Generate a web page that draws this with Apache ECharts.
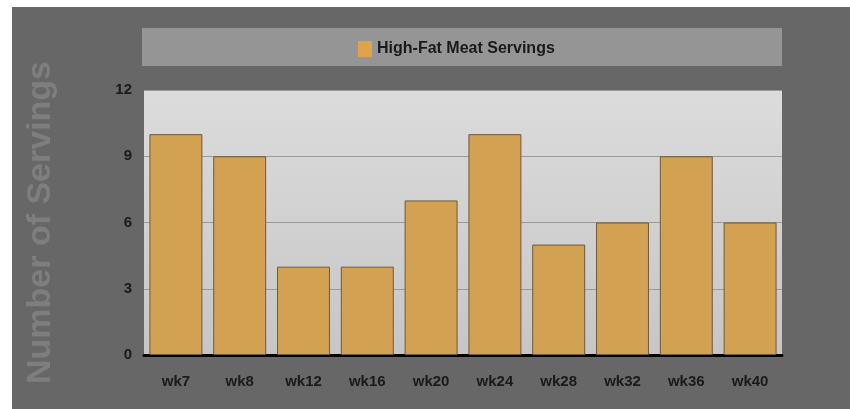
<!DOCTYPE html>
<html>
<head>
<meta charset="utf-8">
<script src="https://cdn.jsdelivr.net/npm/echarts@6/dist/echarts.min.js"></script>
<style>
  html, body { margin: 0; padding: 0; background: #fff; }
  #chart { width: 850px; height: 409px; }
</style>
</head>
<body>
<div id="chart"></div>
<script>
// 图表数据
const categories = ["wk7", "wk8", "wk12", "wk16", "wk20", "wk24", "wk28", "wk32", "wk36", "wk40"];
const servings = [10, 9, 4, 4, 7, 10, 5, 6, 9, 6];
const yTicks = [0, 3, 6, 9, 12];

const chart = echarts.init(document.getElementById("chart"));

const option = {
  backgroundColor: "#ffffff",
  animation: false,
  textStyle: { fontFamily: "Liberation Sans, Arial, sans-serif" },
  graphic: [
    // 深灰背景
    {
      type: "rect",
      z: -10,
      shape: { x: 12, y: 7, width: 838, height: 402 },
      style: { fill: "#676767" }
    },
    // 图例底条
    {
      type: "rect",
      z: -9,
      shape: { x: 142, y: 28, width: 640, height: 38 },
      style: { fill: "#959595" }
    }
  ],
  legend: {
    top: 36,
    left: 353,
    itemWidth: 14,
    itemHeight: 16,
    itemGap: 6,
    icon: "rect",
    itemStyle: { color: "#dfa34c", borderWidth: 0 },
    textStyle: {
      color: "#1a1a1a",
      fontWeight: "bold",
      fontSize: 16,
      fontFamily: "Liberation Sans Narrow, Liberation Sans, Arial"
    },
    data: ["High-Fat Meat Servings"]
  },
  grid: {
    left: 144,
    right: 68,
    top: 90,
    bottom: 54,
    show: true,
    borderWidth: 0,
    backgroundColor: new echarts.graphic.LinearGradient(0, 0, 0, 1, [
      { offset: 0, color: "#dcdcdc" },
      { offset: 1, color: "#c6c6c6" }
    ])
  },
  xAxis: {
    type: "category",
    data: categories,
    axisLine: { lineStyle: { color: "#000", width: 3 } },
    axisTick: { alignWithLabel: true, length: 6, lineStyle: { color: "#000", width: 2 } },
    axisLabel: {
      color: "#1a1a1a",
      fontWeight: "bold",
      fontSize: 15,
      margin: 19,
      fontFamily: "Liberation Sans Narrow, Liberation Sans, Arial"
    }
  },
  yAxis: {
    type: "value",
    min: yTicks[0],
    max: yTicks[yTicks.length - 1],
    interval: 3,
    name: "Number of Servings",
    nameLocation: "middle",
    nameRotate: 90,
    nameGap: 86,
    nameTextStyle: {
      color: "#7e7e7e",
      fontWeight: "bold",
      fontSize: 34,
      fontFamily: "Liberation Sans, Arial"
    },
    axisLine: { show: false },
    axisTick: { show: false },
    axisLabel: {
      color: "#1a1a1a",
      fontWeight: "bold",
      fontSize: 15,
      margin: 12,
      fontFamily: "Liberation Sans Narrow, Liberation Sans, Arial"
    },
    splitLine: { lineStyle: { color: "#9a9a9a", width: 1 } }
  },
  series: [
    {
      name: "High-Fat Meat Servings",
      type: "bar",
      data: servings,
      barCategoryGap: "17%",
      itemStyle: {
        color: "#d3a152",
        borderColor: "#6e5a3c",
        borderWidth: 1
      }
    }
  ]
};

chart.setOption(option);
</script>
</body>
</html>
